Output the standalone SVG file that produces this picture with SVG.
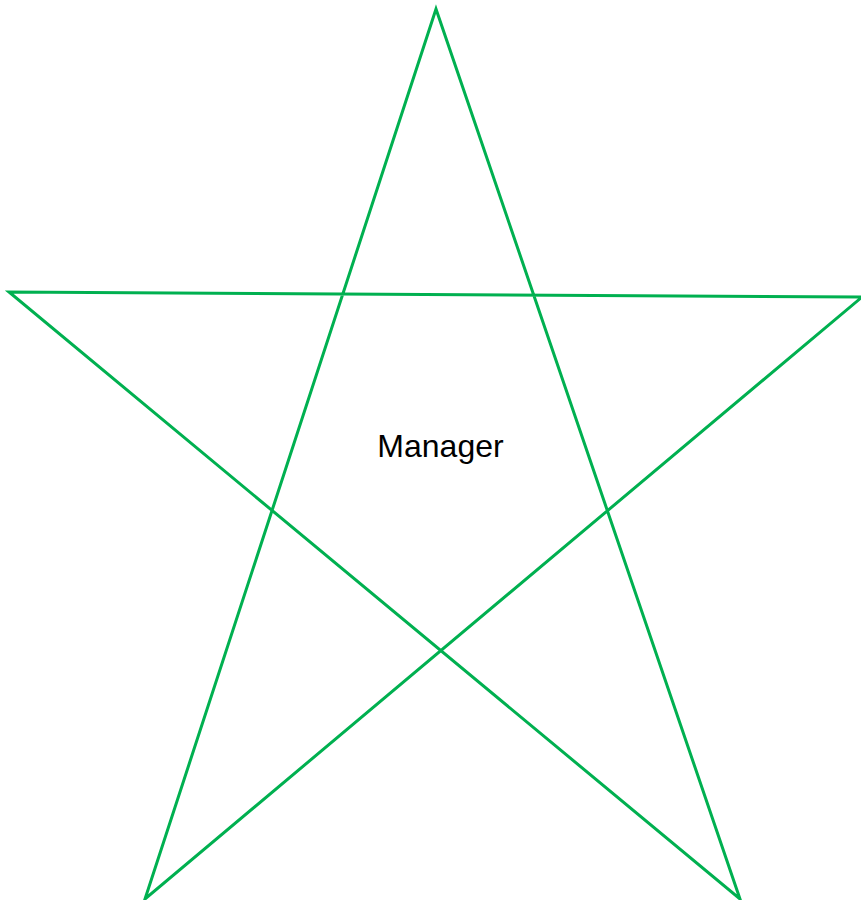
<svg xmlns="http://www.w3.org/2000/svg" width="861" height="900" viewBox="0 0 861 900">
<style>
.star{fill:none;stroke:#00b050;stroke-width:3;stroke-linejoin:miter}
.lbl{font-family:"Liberation Sans",Arial,sans-serif;font-size:32px;fill:#000}
</style>
<rect width="861" height="900" fill="#fff"/>
<g id="manager">
<path class="star" d="M436,9 L145,899 L862,297 L9,292 L740,899 Z"/>
<text class="lbl" x="440.5" y="457" text-anchor="middle">Manager</text>
</g>
<g id="connectors"/>
</svg>
